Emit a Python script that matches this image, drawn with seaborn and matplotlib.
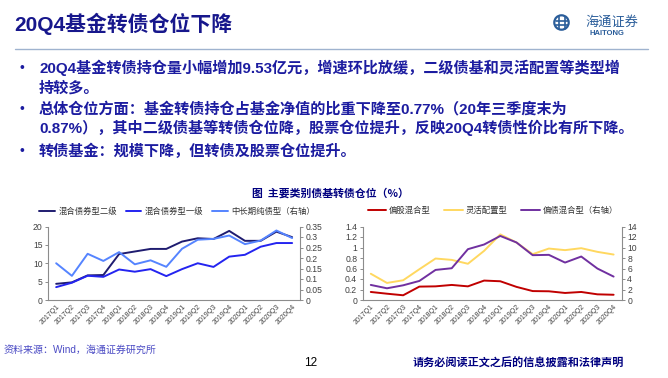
import numpy as np
import pandas as pd
import matplotlib
matplotlib.use("Agg")
import matplotlib.pyplot as plt
import seaborn as sns
from matplotlib.lines import Line2D
from matplotlib.patches import Circle
from matplotlib.ticker import FuncFormatter, FixedLocator

# ---------------- data ----------------
quarters = ["2017Q1", "2017Q2", "2017Q3", "2017Q4", "2018Q1", "2018Q2", "2018Q3", "2018Q4",
            "2019Q1", "2019Q2", "2019Q3", "2019Q4", "2020Q1", "2020Q2", "2020Q3", "2020Q4"]

left_names = ["混合债券型二级", "混合债券型一级", "中长期纯债型（右轴）"]
hybrid_bond_2 = [4.4, 4.8, 6.7, 6.8, 12.5, 13.2, 13.9, 13.9, 15.9, 16.8, 16.6, 18.8, 16.1, 16.1, 18.6, 17.1]
hybrid_bond_1 = [3.5, 4.7, 6.6, 6.3, 8.3, 7.7, 8.4, 6.5, 8.4, 10.0, 9.0, 11.8, 12.3, 14.5, 15.5, 15.5]
pure_bond = [0.175, 0.115, 0.220, 0.186, 0.228, 0.170, 0.189, 0.158, 0.244, 0.287, 0.291, 0.307,
             0.266, 0.283, 0.331, 0.295]

right_names = ["偏股混合型", "灵活配置型", "偏债混合型（右轴）"]
equity_hybrid = [0.153, 0.12, 0.09, 0.255, 0.26, 0.287, 0.26, 0.37, 0.357, 0.25, 0.17, 0.166,
                 0.134, 0.153, 0.108, 0.10]
flexible = [0.50, 0.325, 0.376, 0.586, 0.79, 0.764, 0.69, 0.936, 1.25, 1.095, 0.873, 0.98,
            0.95, 0.987, 0.917, 0.866]
bond_hybrid = [2.87, 2.23, 2.8, 3.63, 5.73, 6.05, 9.68, 10.57, 12.2, 10.96, 8.54, 8.6,
               7.13, 8.28, 5.99, 4.46]

left_ticks = [0, 5, 10, 15, 20]
left_right_ticks = [0, 0.05, 0.1, 0.15, 0.2, 0.25, 0.3, 0.35]
right_ticks = [0, 0.2, 0.4, 0.6, 0.8, 1.0, 1.2, 1.4]
right_right_ticks = [0, 2, 4, 6, 8, 10, 12, 14]

title_text = "20Q4基金转债仓位下降"
bullets = [
    ["20Q4基金转债持仓量小幅增加9.53亿元，增速环比放缓，二级债基和灵活配置等类型增", "持较多。"],
    ["总体仓位方面：基金转债持仓占基金净值的比重下降至0.77%（20年三季度末为",
     "0.87%），其中二级债基等转债仓位降，股票仓位提升，反映20Q4转债性价比有所下降。"],
    ["转债基金：规模下降，但转债及股票仓位提升。"],
]
chart_title = "图  主要类别债基转债仓位（%）"
source_text = "资料来源：Wind，海通证券研究所"
page_no = "12"
disclaimer = "请务必阅读正文之后的信息披露和法律声明"

# ---------------- style ----------------
sns.set_style("white")
CJK = "Noto Sans CJK SC"
plt.rcParams["font.family"] = ["Liberation Sans", CJK, "DejaVu Sans"]
plt.rcParams["axes.unicode_minus"] = False

W, H = 668, 378
fig = plt.figure(figsize=(W / 100, H / 100), dpi=100)


def fx(x):
    return x / W


def fy(y):
    return 1 - y / H


NAVY = "#17178c"
TXT = "#1c1ca0"

# title
fig.text(fx(14), fy(24), title_text, fontsize=15.0, fontweight="bold", color=NAVY,
         va="center", ha="left", family=["Liberation Sans", CJK])

# rule under title
fig.add_artist(Line2D([fx(15), fx(648)], [fy(48.5), fy(48.5)], color="#9fb3cf", lw=1.0,
                      transform=fig.transFigure))

# logo
lax = fig.add_axes([fx(550), fy(45), fx(100), 35 / H])
lax.set_xlim(550, 650)
lax.set_ylim(45, 10)
lax.set_aspect("equal")
lax.axis("off")
logo_c = "#2a5d9a"
lax.add_patch(Circle((561.5, 22.5), 7.2, fill=False, ec=logo_c, lw=1.6))
lax.plot([558.5, 558.5], [16.5, 28.5], color=logo_c, lw=1.2)
lax.plot([564.5, 564.5], [16.5, 28.5], color=logo_c, lw=1.2)
lax.plot([555.5, 567.5], [20.5, 20.5], color=logo_c, lw=1.2)
lax.plot([555.5, 567.5], [24.5, 24.5], color=logo_c, lw=1.2)
lax.text(585, 22, "海通证券", fontsize=9.5, color=logo_c, va="center", ha="left",
         family=[CJK], style="italic")
lax.text(607, 33.5, "HAITONG", fontsize=5.5, fontweight="bold", color=logo_c,
         va="center", ha="center", family=["Liberation Sans"])

# bullets
bullet_y = [[68, 88], [109, 128], [151]]
for lines, ys in zip(bullets, bullet_y):
    fig.text(fx(19), fy(ys[0]), "•", fontsize=10, color=TXT, va="center", ha="left",
             family=["Liberation Sans"])
    for s, y in zip(lines, ys):
        fig.text(fx(39), fy(y), s, fontsize=10.9, fontweight="bold", color=TXT,
                 va="center", ha="left", family=["Liberation Sans", CJK])

# chart title
fig.text(fx(330), fy(193), chart_title, fontsize=7.8, fontweight="bold", color="#000080",
         va="center", ha="center", family=[CJK])

# footer
fig.text(fx(4), fy(350), source_text, fontsize=7.2, color="#4a4ac4", va="center", ha="left",
         family=["Liberation Sans", CJK])
fig.text(fx(311), fy(363), page_no, fontsize=8.5, color="#000000", va="center", ha="center",
         family=["Liberation Sans"])
fig.text(fx(413), fy(363.5), disclaimer, fontsize=8.0, fontweight="bold", color="#000080",
         va="center", ha="left", family=[CJK])

# ---------------- charts ----------------
AX_BOTTOM = fy(300)
AX_H = 73.5 / H
GRAY = "#8c8c8c"
TICKC = "#404040"


def style_axes(ax, ax2):
    ax.set_xlim(-0.5, 15.5)
    ax.set_xlabel("")
    ax.set_ylabel("")
    ax2.set_ylabel("")
    for a in (ax, ax2):
        for sp in a.spines.values():
            sp.set_visible(False)
        a.grid(False)
    ax.spines["left"].set_visible(True)
    ax.spines["bottom"].set_visible(True)
    ax2.spines["right"].set_visible(True)
    for sp in (ax.spines["left"], ax.spines["bottom"], ax2.spines["right"]):
        sp.set_color(GRAY)
        sp.set_linewidth(0.8)
    ax.set_xticks(range(len(quarters)))
    ax.set_xticklabels(quarters, rotation=45, ha="right", rotation_mode="anchor",
                       fontsize=5.0, color=TICKC)
    ax.xaxis.set_minor_locator(FixedLocator(np.arange(-0.5, 16, 1.0)))
    ax.tick_params(axis="x", which="major", length=0, pad=2.5)
    ax.tick_params(axis="x", which="minor", length=2.2, color=GRAY, width=0.7, direction="out")
    ax.tick_params(axis="y", length=2, color=GRAY, width=0.7, labelsize=6.2, labelcolor=TICKC,
                   pad=2, direction="out", left=True)
    ax2.tick_params(axis="y", length=2, color=GRAY, width=0.7, labelsize=6.2, labelcolor=TICKC,
                    pad=2, direction="out", right=True)
    fmt = FuncFormatter(lambda v, p: f"{v:g}")
    ax.yaxis.set_major_formatter(fmt)
    ax2.yaxis.set_major_formatter(fmt)


LW = 1.4

# left chart
axL = fig.add_axes([fx(48.3), AX_BOTTOM, fx(300 - 48.3), AX_H])
axL2 = axL.twinx()
dfL = pd.DataFrame({
    "q": list(range(len(quarters))) * 2,
    "v": hybrid_bond_2 + hybrid_bond_1,
    "s": [left_names[0]] * len(quarters) + [left_names[1]] * len(quarters),
})
colL = {left_names[0]: "#1f1c70", left_names[1]: "#2424f0"}
sns.lineplot(data=dfL, x="q", y="v", hue="s", palette=colL, ax=axL, lw=LW, legend=False)
sns.lineplot(x=list(range(len(quarters))), y=pure_bond, ax=axL2, color="#5584ff", lw=LW)
axL.set_ylim(0, 20)
axL.set_yticks(left_ticks)
axL2.set_ylim(0, 0.35)
axL2.set_yticks(left_right_ticks)
style_axes(axL, axL2)

handlesL = [Line2D([], [], color=colL[left_names[0]], lw=LW),
            Line2D([], [], color=colL[left_names[1]], lw=LW),
            Line2D([], [], color="#5584ff", lw=LW)]
fig.legend(handlesL, left_names, loc="center", bbox_to_anchor=(fx(177), fy(211.5)), ncol=3,
           frameon=False, handlelength=1.9, handletextpad=0.4, columnspacing=1.0,
           prop={"family": [CJK], "size": 6.0}, labelcolor="#333333")

# right chart
axR = fig.add_axes([fx(362.7), AX_BOTTOM, fx(621.7 - 362.7), AX_H])
axR2 = axR.twinx()
dfR = pd.DataFrame({
    "q": list(range(len(quarters))) * 2,
    "v": equity_hybrid + flexible,
    "s": [right_names[0]] * len(quarters) + [right_names[1]] * len(quarters),
})
colR = {right_names[0]: "#c00000", right_names[1]: "#ffd860"}
sns.lineplot(data=dfR, x="q", y="v", hue="s", palette=colR, ax=axR, lw=LW, legend=False)
sns.lineplot(x=list(range(len(quarters))), y=bond_hybrid, ax=axR2, color="#7030a0", lw=LW)
axR.set_ylim(0, 1.4)
axR.set_yticks(right_ticks)
axR2.set_ylim(0, 14)
axR2.set_yticks(right_right_ticks)
style_axes(axR, axR2)

handlesR = [Line2D([], [], color=colR[right_names[0]], lw=LW),
            Line2D([], [], color=colR[right_names[1]], lw=LW),
            Line2D([], [], color="#7030a0", lw=LW)]
fig.legend(handlesR, right_names, loc="center", bbox_to_anchor=(fx(493), fy(210.5)), ncol=3,
           frameon=False, handlelength=2.2, handletextpad=0.4, columnspacing=1.6,
           prop={"family": [CJK], "size": 6.0}, labelcolor="#333333")

fig.savefig("out.png", dpi=100, facecolor="white")
